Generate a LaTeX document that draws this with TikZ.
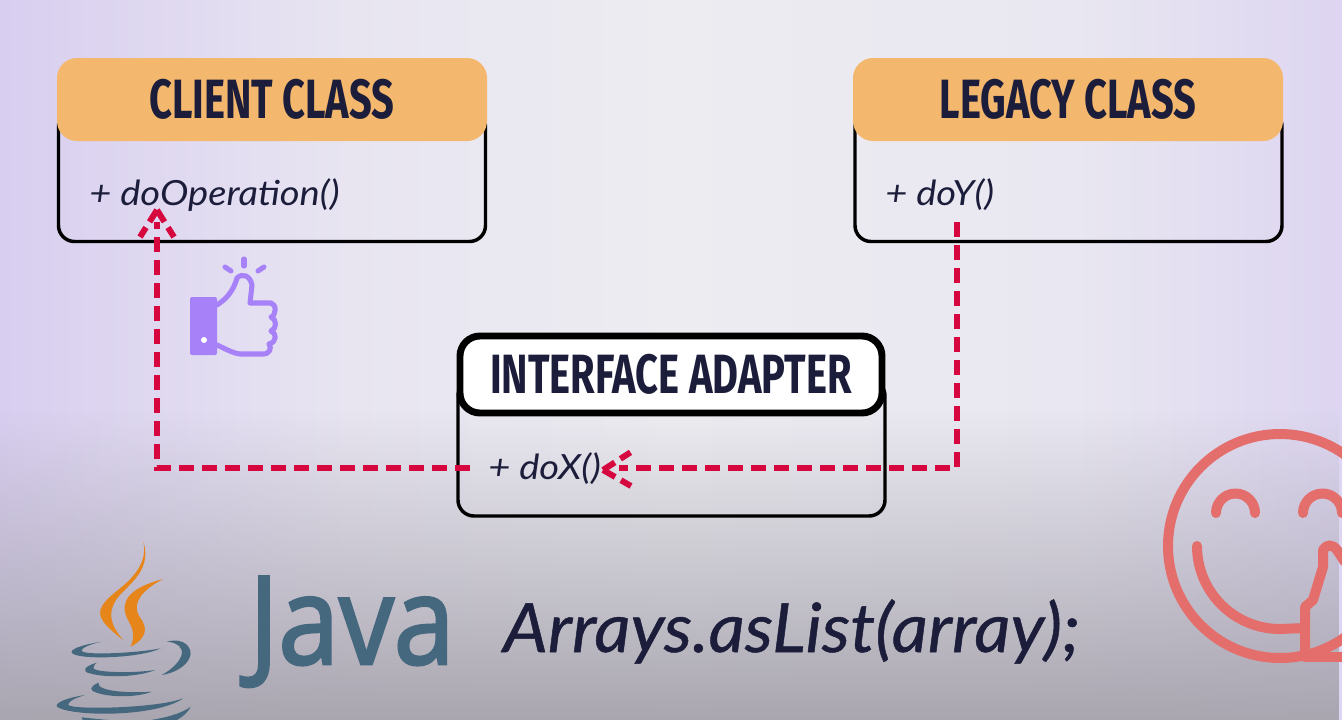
\documentclass[tikz,border=0pt]{standalone}
\usepackage{fontspec}
\usetikzlibrary{fadings,calc}
\setmainfont{Lato}
\newfontfamily\headfont[FakeStretch=0.72]{Fira Sans}
\newfontfamily\javafont[FakeStretch=0.89,FakeBold=2.2]{Open Sans}
\newfontfamily\opfont[FakeStretch=1.1]{Lato}
\newfontfamily\codefont[FakeStretch=1.04,FakeBold=0.7]{Lato}
\definecolor{ink}{HTML}{1B1D3A}
\definecolor{headorange}{HTML}{F3B76D}
\definecolor{dashred}{HTML}{D6063F}
\definecolor{thumbpurple}{HTML}{A681F8}
\definecolor{javablue}{HTML}{45687F}
\definecolor{javaorange}{HTML}{E5851A}
\definecolor{smile}{HTML}{E46E6C}
\definecolor{bgbottom}{HTML}{A9A6B0}
\definecolor{bgA}{HTML}{D8CEF0}
\definecolor{bgB}{HTML}{E8E5F1}
\definecolor{bgC}{HTML}{ECECF1}
\definecolor{bgD}{HTML}{E9E7F1}
\definecolor{bgE}{HTML}{DDD5F1}
\pgfdeclarehorizontalshading{bgsweep}{100bp}{
  color(0bp)=(bgA);
  color(25bp)=(bgA);
  color(38bp)=(bgB);
  color(50bp)=(bgC);
  color(65bp)=(bgD);
  color(75bp)=(bgE);
  color(100bp)=(bgE)}
\tikzfading[name=bottomfade, top color=transparent!100, bottom color=transparent!0]
\tikzset{
  x=0.75pt,y=-0.75pt,
  classhead/.style={rounded corners=15pt,minimum width=430*0.75pt,minimum height=83*0.75pt,inner sep=0pt,fill=headorange,font=\headfont\bfseries\fontsize{41.5}{41.5}\selectfont,text=ink},
  adapterhead/.style={classhead,fill=white,draw=black,line width=5.2pt,minimum width=422*0.75pt,minimum height=77*0.75pt},
  classbody/.style={rounded corners=12pt,draw=black,line width=2.6pt,minimum width=427*0.75pt,inner sep=0pt},
  optext/.style={inner sep=0pt,anchor=base west,text=ink,font=\opfont\itshape\fontsize{26}{26}\selectfont},
  dashline/.style={draw=dashred,line width=4.5pt,dash pattern=on 11.25pt off 6pt},
  headarm/.style={draw=dashred,line width=4.5pt,dash pattern=on 10.5pt off 5pt on 9pt off 9pt},
  thumbline/.style={draw=thumbpurple,line width=3.8pt,line cap=round,line join=round},
  smileline/.style={draw=smile,line width=7.5pt,line cap=round,line join=round}
}
\begin{document}
\begin{tikzpicture}
\useasboundingbox (0,0) rectangle (1342,719);
\clip (0,0) rectangle (1342,719);
% background
\shade[shading=bgsweep] (0,0) rectangle (1342,719);
\fill[color=bgbottom,path fading=bottomfade] (0,410) rectangle (1342,720);

% class bodies
\node[classbody,minimum height=131*0.75pt] (clientbody) at (272,176) {};
\node[classbody,minimum height=131*0.75pt] (legacybody) at (1068.5,176) {};
\node[classbody,minimum height=136*0.75pt] (adapterbody) at (671.5,448) {};
% headers
\node[classhead] (client) at (272,99.5) {CLIENT CLASS};
\node[classhead] (legacy) at (1068,99.5) {LEGACY CLASS};
\node[adapterhead] (adapter) at (671,374.5) {INTERFACE ADAPTER};
% operations
\node[optext] (op) at (89,205) {+ doOperation()};
\node[optext] (doy) at (885,205) {+ doY()};
\node[optext] (dox) at (488,479) {+ doX()};

% connectors
\coordinate (clienttip) at (157,210);
\coordinate (clientin) at (157,222);
\coordinate (legacyout) at (957,222);
\coordinate (corner) at (957,468);
\coordinate (doxtip) at (603,470);
\coordinate (adapterout) at (470,468);
\coordinate (leftcorner) at (157,468);
\draw[dashline] (legacyout) -- (corner) -- ($(doxtip)+(16,-2)$);
\draw[dashline] (adapterout) -- (leftcorner) -- (clientin);
\draw[headarm] (clienttip) -- ++(-17,27);
\draw[headarm] (clienttip) -- ++(17,27);
\draw[headarm] (doxtip) -- ++(28,-18);
\draw[headarm] (doxtip) -- ++(28,16);

% thumb icon
\fill[thumbpurple,rounded corners=1.5pt] (190,297) rectangle (217,355);
\fill[white] (204,340) circle (3);
\draw[thumbline] (217,305) .. controls (226,299) and (233,292) .. (237,278)
  .. controls (242,273) and (250,275) .. (252,285) -- (250,303) -- (271,303)
  .. controls (277,304) and (276,316) .. (271,317)
  .. controls (277,319) and (277,329) .. (271,331)
  .. controls (277,333) and (277,342) .. (269,344)
  .. controls (272,348) and (270,354) .. (263,354) -- (240,354)
  .. controls (232,353) and (224,348) .. (217,345);
\draw[thumbline] (244,259) -- (244,266);
\draw[thumbline] (225,267) -- (231,271);
\draw[thumbline] (264,267) -- (258,271);

% java logo
\begin{scope}[shift={(40,530)},x=0.25pt,y=-0.25pt]
\fill[javaorange] (310,35) .. controls (322,90) and (290,135) .. (240,175)
  .. controls (190,215) and (165,240) .. (190,275) .. controls (205,295) and (230,315) .. (250,330)
  .. controls (210,285) and (205,250) .. (225,215) .. controls (250,170) and (340,130) .. (310,35) -- cycle;
\fill[javaorange] (370,147) .. controls (300,165) and (245,195) .. (255,245)
  .. controls (258,275) and (295,295) .. (272,350)
  .. controls (320,325) and (325,295) .. (300,262) .. controls (280,235) and (285,190) .. (370,147) -- cycle;
\fill[javablue] (185,335) .. controls (120,345) and (85,360) .. (97,370)
  .. controls (120,390) and (300,385) .. (362,355) .. controls (300,368) and (130,378) .. (125,362)
  .. controls (125,352) and (160,340) .. (185,335) -- cycle;
\fill[javablue] (380,335) .. controls (440,320) and (458,360) .. (450,380)
  .. controls (440,410) and (400,430) .. (365,435) .. controls (410,410) and (430,380) .. (425,360)
  .. controls (420,340) and (390,335) .. (380,335) -- cycle;
\fill[javablue] (170,398) .. controls (130,410) and (125,425) .. (150,430)
  .. controls (200,445) and (300,440) .. (345,420) .. controls (280,430) and (170,428) .. (160,415)
  .. controls (160,408) and (165,402) .. (170,398) -- cycle;
\fill[javablue] (175,458) .. controls (150,470) and (145,480) .. (170,488)
  .. controls (220,505) and (300,500) .. (335,485) .. controls (270,490) and (170,485) .. (175,458) -- cycle;
\fill[javablue] (135,495) .. controls (70,505) and (30,525) .. (60,535)
  .. controls (120,560) and (350,560) .. (430,505) .. controls (350,535) and (100,540) .. (85,525)
  .. controls (85,510) and (120,500) .. (135,495) -- cycle;
\fill[javablue] (452,530) .. controls (420,555) and (350,570) .. (290,575) -- (400,575) .. controls (425,565) and (445,545) .. (452,530) -- cycle;
\fill[javablue] (125,562) .. controls (160,566) and (200,570) .. (240,572) -- (130,575) -- cycle;
\end{scope}
\node[inner sep=0pt,anchor=base west,text=javablue,font=\javafont\fontsize{92}{92}\selectfont] (java) at (249,664) {Java};
\node[optext,font=\codefont\itshape\fontsize{51}{51}\selectfont] (code) at (503,652) {Arrays.asList(array);};

% smiley
\draw[smileline] (1280,546) circle (112);
\draw[smileline] (1216,513) arc (180:360:19.5);
\draw[smileline] (1303,513) arc (180:360:19.5);
\draw[smileline] (1197,546) arc (180:90:83) -- (1305,628);
\draw[smileline] (1305,657) -- (1305,607) -- (1313,600) -- (1323,567) -- (1323,550)
  .. controls (1326,544) and (1333,544) .. (1337,550) -- (1345,562);
\draw[smileline] (1305,657) -- (1345,657);
\end{tikzpicture}
\end{document}
